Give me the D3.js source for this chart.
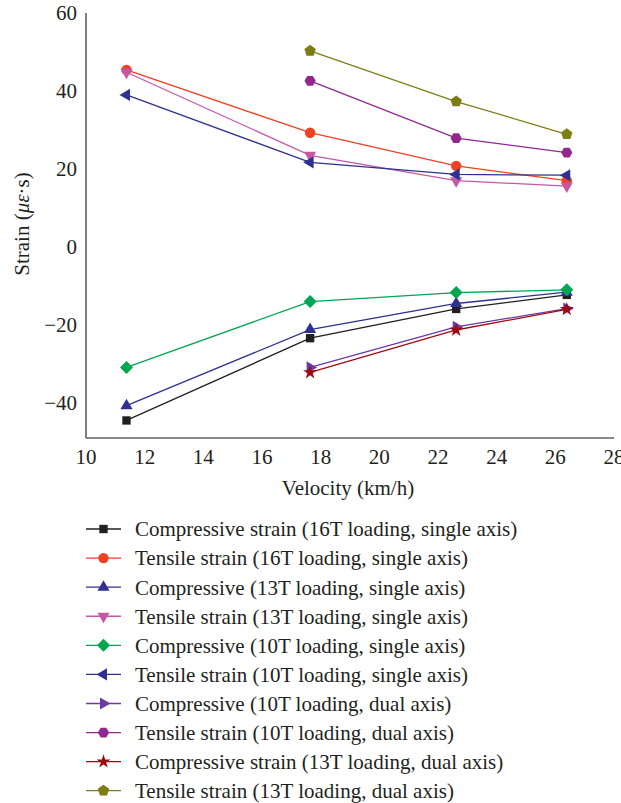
<!DOCTYPE html>
<html>
<head>
<meta charset="utf-8">
<script src="https://cdn.jsdelivr.net/npm/d3@7"></script>
<style>
  html, body { margin: 0; padding: 0; background: #fff; }
</style>
</head>
<body>
<svg id="chart" width="621" height="803"></svg>
<script>
// ---- data ----
const velocities = [11.38, 17.64, 22.62, 26.39];
const xTicks = [10, 12, 14, 16, 18, 20, 22, 24, 26, 28];
const yTicks = [-40, -20, 0, 20, 40, 60];

const seriesNames = [
  "Compressive strain (16T loading, single axis)",
  "Tensile strain (16T loading, single axis)",
  "Compressive (13T loading, single axis)",
  "Tensile strain (13T loading, single axis)",
  "Compressive (10T loading, single axis)",
  "Tensile strain (10T loading, single axis)",
  "Compressive (10T loading, dual axis)",
  "Tensile strain (10T loading, dual axis)",
  "Compressive strain (13T loading, dual axis)",
  "Tensile strain (13T loading, dual axis)"
];
const comp16Single = [-44.5, -23.4, -15.9, -12.3];
const tens16Single = [45.4, 29.3, 20.8, 17.0];
const comp13Single = [-40.7, -21.2, -14.5, -11.6];
const tens13Single = [44.8, 23.5, 17.0, 15.6];
const comp10Single = [-30.9, -14.0, -11.7, -11.0];
const tens10Single = [39.0, 21.7, 18.6, 18.4];
const comp10Dual = [null, -30.9, -20.5, -15.8];
const tens10Dual = [null, 42.6, 27.9, 24.2];
const comp13Dual = [null, -32.2, -21.3, -16.0];
const tens13Dual = [null, 50.3, 37.3, 28.9];

const seriesValues = [comp16Single, tens16Single, comp13Single, tens13Single, comp10Single,
  tens10Single, comp10Dual, tens10Dual, comp13Dual, tens13Dual];
const seriesColors = ["#231f20", "#ef4123", "#2e3192", "#c657a5", "#00a651",
  "#2e3192", "#6a3aa5", "#92278f", "#9e0b0f", "#7d7d16"];
const seriesMarkers = ["square", "circle", "triUp", "triDown", "diamond",
  "triLeft", "triRight", "hexagon", "star", "pentagon"];

// ---- layout ----
const svg = d3.select("#chart");
const FONT = "'Times New Roman', 'Liberation Serif', serif";
const textColor = "#231f20";
const x = d3.scaleLinear().domain([10, 28]).range([86, 614]);
const y = d3.scaleLinear().domain([-49, 60]).range([438, 13]);

function txt(sel, size) {
  return sel.style("font-family", FONT).style("font-size", size + "px").attr("fill", textColor);
}

function polygon(n, r, rot) {
  const pts = [];
  for (let i = 0; i < n; i++) {
    const a = rot + i * 2 * Math.PI / n;
    pts.push([r * Math.cos(a), r * Math.sin(a)]);
  }
  return "M" + pts.map(p => p[0].toFixed(2) + "," + p[1].toFixed(2)).join("L") + "Z";
}
function markerPath(type) {
  switch (type) {
    case "square": return d3.symbol(d3.symbolSquare, 70)();
    case "circle": return d3.symbol(d3.symbolCircle, 85)();
    case "triUp": return polygon(3, 7, -Math.PI / 2);
    case "triDown": return polygon(3, 7, Math.PI / 2);
    case "triLeft": return polygon(3, 7, Math.PI);
    case "triRight": return polygon(3, 7, 0);
    case "diamond": return polygon(4, 6.5, -Math.PI / 2);
    case "hexagon": return polygon(6, 5.6, 0);
    case "pentagon": return polygon(5, 6, -Math.PI / 2);
    case "star": return d3.symbol(d3.symbolStar, 60)();
  }
}

// axes
const axisColor = "#606060";
svg.append("line").attr("x1", x(10)).attr("x2", x(10)).attr("y1", y(60)).attr("y2", y(-49))
  .attr("stroke", axisColor).attr("stroke-width", 1.6);
svg.append("line").attr("x1", x(10)).attr("x2", x(28)).attr("y1", y(-49)).attr("y2", y(-49))
  .attr("stroke", axisColor).attr("stroke-width", 1.6);

txt(svg.selectAll(".ytick").data(yTicks).enter().append("text"), 21)
  .attr("x", 77).attr("y", d => y(d)).attr("dy", "0.35em")
  .attr("text-anchor", "end")
  .text(d => d < 0 ? "\u2212" + Math.abs(d) : d);

txt(svg.selectAll(".xtick").data(xTicks).enter().append("text"), 21)
  .attr("x", d => x(d)).attr("y", 463.5)
  .attr("text-anchor", "middle")
  .text(d => d);

txt(svg.append("text"), 21).attr("x", 348).attr("y", 495).attr("text-anchor", "middle")
  .text("Velocity (km/h)");

const yl = txt(svg.append("text"), 21).attr("transform", "translate(29,224) rotate(-90)")
  .attr("text-anchor", "middle");
yl.append("tspan").text("Strain (");
yl.append("tspan").style("font-style", "italic").text("\u03bc\u03b5");
yl.append("tspan").text("\u00b7s)");

// series
const line = d3.line().defined(d => d[1] !== null).x(d => x(d[0])).y(d => y(d[1]));
seriesValues.forEach((vals, i) => {
  const pts = velocities.map((v, j) => [v, vals[j]]);
  const g = svg.append("g");
  g.append("path").datum(pts).attr("d", line).attr("fill", "none")
    .attr("stroke", seriesColors[i]).attr("stroke-width", 1.3);
  g.selectAll("path.m").data(pts.filter(p => p[1] !== null)).enter().append("path")
    .attr("class", "m")
    .attr("transform", p => `translate(${x(p[0])},${y(p[1])})`)
    .attr("d", markerPath(seriesMarkers[i]))
    .attr("fill", seriesColors[i]);
});

// legend
const legend = svg.append("g");
seriesNames.forEach((name, i) => {
  const yy = 529 + i * 29.08;
  legend.append("line").attr("x1", 86).attr("x2", 121).attr("y1", yy).attr("y2", yy)
    .attr("stroke", seriesColors[i]).attr("stroke-width", 1.3);
  legend.append("path").attr("transform", `translate(103.5,${yy})`)
    .attr("d", markerPath(seriesMarkers[i])).attr("fill", seriesColors[i]);
  txt(legend.append("text"), 21).attr("x", 135).attr("y", yy).attr("dy", "0.35em")
    .text(name);
});
</script>
</body>
</html>
